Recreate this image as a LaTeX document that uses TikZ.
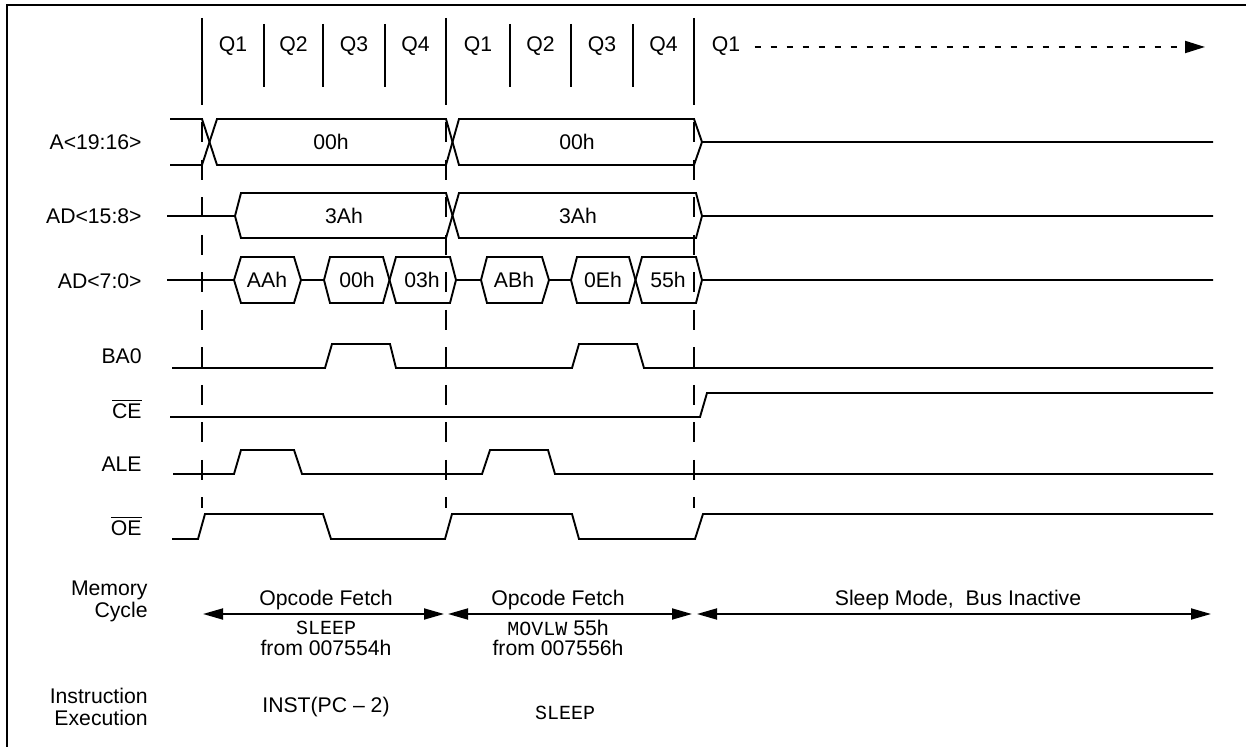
\documentclass[tikz,border=0pt]{standalone}
\usepackage{fontspec}
\setmainfont{Liberation Sans}
\setmonofont{Liberation Mono}
\usetikzlibrary{arrows.meta,positioning}

\begin{document}
\begin{tikzpicture}[
  x=0.5pt, y=-0.5pt,
  font=\fontsize{10.6}{11}\selectfont,
  >={Triangle[length=10pt,width=5.5pt]},
  frameline/.style={line width=1.3pt},
  phaseline/.style={line width=1pt},
  guideline/.style={
    line width=1pt, dash pattern=on 10pt off 8.75pt, dash phase=10pt
  },
  sigline/.style={line width=0.95pt, line join=miter},
  siglabel/.style={anchor=east, inner sep=0pt},
  qlabel/.style={inner sep=2pt},
  busval/.style={inner sep=0pt},
  cyclabel/.style={align=center, inner sep=0pt},
  codelabel/.style={inner sep=0pt, font=\fontsize{10}{11}\selectfont\ttfamily},
  rowlabel/.style={align=right, anchor=east, inner sep=0pt},
  cycarrow/.style={<->, line width=0.9pt},
  qarrow/.style={
    ->, line width=1pt, dash pattern=on 3pt off 5pt,
    >={Triangle[length=10pt,width=6pt]}, shorten <=5pt
  }
]
\useasboundingbox (0,0) rectangle (1246,747);

% Frame
\draw[frameline] (7,747) -- (7,5) -- (1246,5);

% Q phases
\foreach \x in {202,446,694}
  \draw[phaseline] (\x,18) -- (\x,105);
\foreach \x in {264,323,385,510,571,633}
  \draw[phaseline] (\x,24) -- (\x,87);
\foreach \i/\x/\q in {1/233/Q1, 2/293.5/Q2, 3/354/Q3, 4/415.5/Q4,
                      5/478/Q1, 6/540.5/Q2, 7/602/Q3, 8/663.5/Q4} {
  \node[qlabel] (q\i) at (\x,46) {\q};
}
\node[qlabel] (q9) at (726,46) {Q1};
\coordinate (qend) at (1205,47);
\draw[qarrow] (q9.east |- qend) -- (qend);

% Dashed cycle boundaries
\foreach \x in {202,446,694}
  \draw[guideline] (\x,105) -- (\x,508);

% Signal names
\node[siglabel] (lblA)   at (142,142) {A<19:16>};
\node[siglabel] (lblADh) at (142,216) {AD<15:8>};
\node[siglabel] (lblADl) at (142,281) {AD<7:0>};
\node[siglabel] (lblBA)  at (142,356) {BA0};
\node[siglabel] (lblCE)  at (142,409) {$\overline{\hbox{CE}}$};
\node[siglabel] (lblALE) at (142,464) {ALE};
\node[siglabel] (lblOE)  at (142,526) {$\overline{\hbox{OE}}$};

% ===== A<19:16> =====
\draw[sigline] (170,119) -- (202,119) -- (217,165) -- (446,165) -- (459,119)
  -- (694,119) -- (702,142) -- (1213,142);
\draw[sigline] (170,165) -- (202,165) -- (217,119) -- (446,119) -- (459,165)
  -- (694,165) -- (702,142);
\node[busval] (a1) at (331,142) {00h};
\node[busval] (a2) at (577,142) {00h};

% ===== AD<15:8> =====
\draw[sigline] (167,216) -- (235,216) -- (241,193) -- (446,193) -- (459,238)
  -- (696,238) -- (702,216) -- (1213,216);
\draw[sigline] (235,216) -- (241,238) -- (446,238) -- (459,193)
  -- (696,193) -- (702,216);
\node[busval] (adh1) at (344,216) {3Ah};
\node[busval] (adh2) at (578,216) {3Ah};

% ===== AD<7:0> =====
\draw[sigline] (167,280) -- (234,280) -- (241,257) -- (294,257) -- (301,280)
  -- (324,280) -- (330,257) -- (383,257) -- (396,303) -- (450,303)
  -- (456,280) -- (481,280) -- (487,257) -- (542,257) -- (549,280)
  -- (571,280) -- (577,257) -- (629,257) -- (642,303) -- (696,303)
  -- (702,280) -- (1213,280);
\draw[sigline] (234,280) -- (241,303) -- (294,303) -- (301,280);
\draw[sigline] (324,280) -- (330,303) -- (383,303) -- (396,257) -- (450,257)
  -- (456,280);
\draw[sigline] (481,280) -- (487,303) -- (542,303) -- (549,280);
\draw[sigline] (571,280) -- (577,303) -- (629,303) -- (642,257) -- (696,257)
  -- (702,280);
\node[busval] (adl1) at (267,280) {AAh};
\node[busval] (adl2) at (357,280) {00h};
\node[busval] (adl3) at (422,280) {03h};
\node[busval] (adl4) at (514,280) {ABh};
\node[busval] (adl5) at (603,280) {0Eh};
\node[busval] (adl6) at (668,280) {55h};

% ===== BA0 =====
\draw[sigline] (172,368) -- (325,368) -- (332,344) -- (390,344) -- (396,368)
  -- (572,368) -- (579,344) -- (637,344) -- (644,368) -- (1213,368);

% ===== CE =====
\draw[sigline] (170,417) -- (700,417) -- (707,393) -- (1213,393);

% ===== ALE =====
\draw[sigline] (173,474) -- (234,474) -- (241,450) -- (294,450) -- (302,474)
  -- (482,474) -- (490,450) -- (548,450) -- (555,474) -- (1213,474);

% ===== OE =====
\draw[sigline] (172,539) -- (198,539) -- (205,514) -- (323,514) -- (331,539)
  -- (445,539) -- (452,514) -- (572,514) -- (579,539) -- (695,539)
  -- (703,514) -- (1213,514);

% ===== Memory cycle =====
\node[rowlabel] (memlbl) at (148,601) {Memory\\Cycle};
\coordinate (m0) at (203,614);
\coordinate (m1) at (444,614);
\coordinate (m2) at (448,614);
\coordinate (m3) at (692,614);
\coordinate (m4) at (697,614);
\coordinate (m5) at (1211,614);
\draw[cycarrow] (m0) -- (m1);
\draw[cycarrow] (m2) -- (m3);
\draw[cycarrow] (m4) -- (m5);

\node[cyclabel] (fetch1) at (326,600) {Opcode Fetch};
\node[codelabel] (fetch1op) at (326,628) {SLEEP};
\node[cyclabel] (fetch1ad) at (326,648) {from 007554h};
\node[cyclabel] (fetch2) at (558,600) {Opcode Fetch};
\node[cyclabel] (fetch2op) at (558,628) {{\fontsize{10}{11}\selectfont\ttfamily MOVLW} 55h};
\node[cyclabel] (fetch2ad) at (558,648) {from 007556h};
\node[cyclabel] (sleep) at (958,600) {Sleep Mode,\ \ Bus Inactive};

% ===== Instruction execution =====
\node[rowlabel] (execlbl) at (148,707) {Instruction\\Execution};
\node[cyclabel] (exec1) at (326,707) {INST(PC – 2)};
\node[codelabel] (exec2) at (565,713) {SLEEP};

\end{tikzpicture}
\end{document}
